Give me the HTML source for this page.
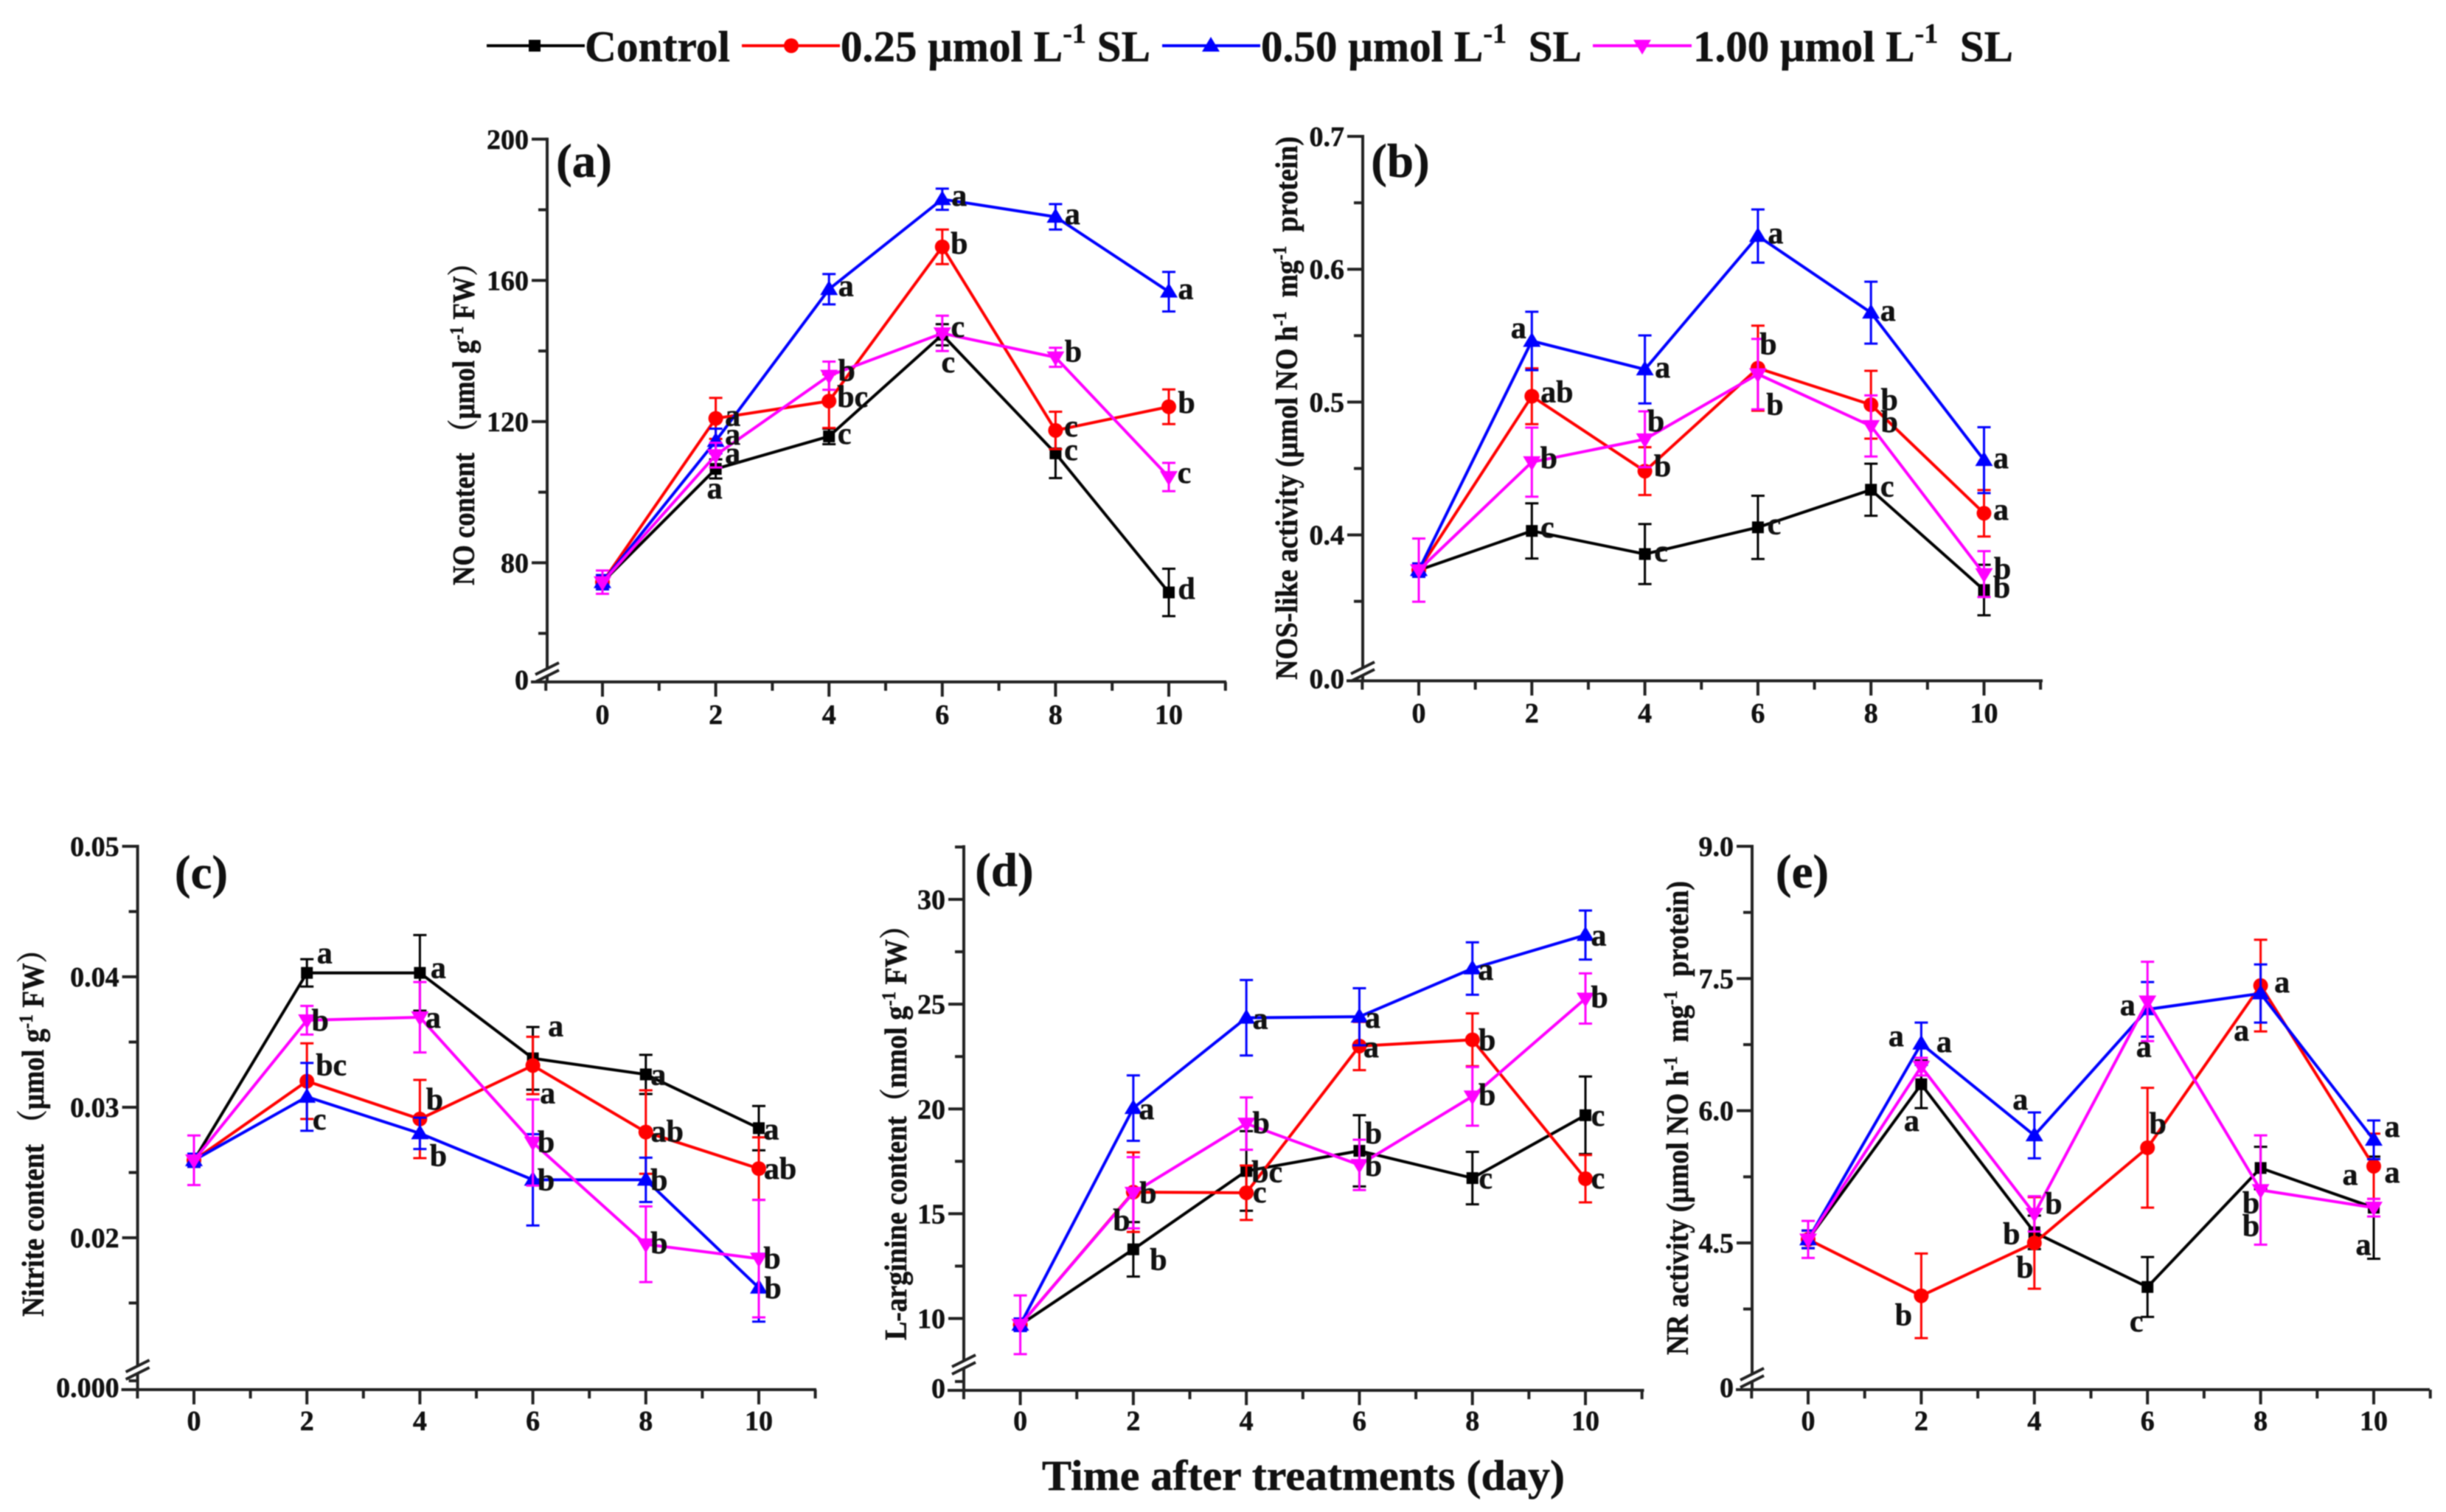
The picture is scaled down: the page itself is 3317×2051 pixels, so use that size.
<!DOCTYPE html>
<html lang="en">
<head>
<meta charset="utf-8">
<title>Nitric oxide metabolism after SL treatments</title>
<style>
html,body{margin:0;padding:0;background:#fff;width:3317px;height:2051px;overflow:hidden}
svg{display:block;filter:blur(0.7px)}
text{font-family:"Liberation Serif","Noto Serif CJK SC",serif;font-weight:bold;fill:#111;stroke:#111;stroke-width:0.5px}
</style>
</head>
<body>
<svg id="chart" xmlns="http://www.w3.org/2000/svg" width="3317" height="2051" viewBox="0 0 3317 2051">
  <rect x="0" y="0" width="3317" height="2051" fill="#fff"/>
  <g id="legend">
    <g>
      <line x1="660" x2="793" y1="62" y2="62" stroke="#000" stroke-width="4"/>
      <rect x="717" y="54" width="16" height="16" fill="#000"/>
      <text x="793" y="83" font-size="59" textLength="197" lengthAdjust="spacingAndGlyphs">Control</text>
    </g>
    <g>
      <line x1="1006" x2="1139" y1="62" y2="62" stroke="#f00" stroke-width="4"/>
      <circle cx="1073" cy="62" r="10" fill="#f00"/>
      <text x="1140" y="83" font-size="59" textLength="420" lengthAdjust="spacingAndGlyphs">0.25 μmol L<tspan dy="-25" font-size="38">-1</tspan><tspan dy="25"> SL</tspan></text>
    </g>
    <g>
      <line x1="1576" x2="1709" y1="62" y2="62" stroke="#00f" stroke-width="4"/>
      <polygon points="1642,50 1654,70 1630,70" fill="#00f"/>
      <text x="1710" y="83" font-size="59" textLength="435" lengthAdjust="spacingAndGlyphs">0.50 μmol L<tspan dy="-25" font-size="38">-1</tspan><tspan dy="25" xml:space="preserve">  SL</tspan></text>
    </g>
    <g>
      <line x1="2160" x2="2294" y1="62" y2="62" stroke="#f0f" stroke-width="4"/>
      <polygon points="2227,74 2239,54 2215,54" fill="#f0f"/>
      <text x="2296" y="83" font-size="59" textLength="434" lengthAdjust="spacingAndGlyphs">1.00 μmol L<tspan dy="-25" font-size="38">-1</tspan><tspan dy="25" xml:space="preserve">  SL</tspan></text>
    </g>
  </g>
  <text x="792" y="240" font-size="65" text-anchor="middle">(a)</text>
  <text x="1899" y="240" font-size="65" text-anchor="middle">(b)</text>
  <text x="273" y="1205" font-size="65" text-anchor="middle">(c)</text>
  <text x="1362" y="1202" font-size="65" text-anchor="middle">(d)</text>
  <text x="2444" y="1204" font-size="65" text-anchor="middle">(e)</text>

  <text transform="translate(643 794) rotate(-90)" font-size="42" textLength="456" lengthAdjust="spacingAndGlyphs">NO content （μmol g<tspan dy="-15" font-size="26">-1</tspan><tspan dy="15"> FW）</tspan></text>
  <text transform="translate(1759 922) rotate(-90)" font-size="42" textLength="737" lengthAdjust="spacingAndGlyphs">NOS-like activity (μmol NO h<tspan dy="-15" font-size="26">-1</tspan><tspan dy="15" xml:space="preserve">  mg</tspan><tspan dy="-15" font-size="26">-1</tspan><tspan dy="15" xml:space="preserve">  protein)</tspan></text>
  <text transform="translate(59 1786) rotate(-90)" font-size="42" textLength="517" lengthAdjust="spacingAndGlyphs">Nitrite content （μmol  g<tspan dy="-15" font-size="26">-1</tspan><tspan dy="15"> FW）</tspan></text>
  <text transform="translate(1229 1818) rotate(-90)" font-size="42" textLength="582" lengthAdjust="spacingAndGlyphs">L-arginine content（nmol  g<tspan dy="-15" font-size="26">-1</tspan><tspan dy="15"> FW）</tspan></text>
  <text transform="translate(2289 1838) rotate(-90)" font-size="42" textLength="643" lengthAdjust="spacingAndGlyphs">NR activity (μmol NO h<tspan dy="-15" font-size="26">-1</tspan><tspan dy="15" xml:space="preserve">  mg</tspan><tspan dy="-15" font-size="26">-1</tspan><tspan dy="15" xml:space="preserve">  protein)</tspan></text>
  <text x="1413" y="2021" font-size="58" textLength="709" lengthAdjust="spacingAndGlyphs">Time after treatments (day)</text>
  <g id="plots"></g>
</svg>
<script>
const days = [0, 2, 4, 6, 8, 10];
const xTickLabels = ['0', '2', '4', '6', '8', '10'];

// Panel (a) NO content
const aControl = [74.5, 106.6, 115.8, 144.6, 111, 71.6];
const aControlErr = [2, 2.7, 2.2, 3, 7, 6.7];
const aControlLetters = ['', 'a', 'c', 'c', 'c', 'd'];
const aLow = [74.5, 120.9, 125.8, 169.5, 117.5, 124.2];
const aLowErr = [2, 5.8, 7.6, 4.9, 5.3, 4.9];
const aLowLetters = ['', 'a', 'bc', 'b', 'c', 'b'];
const aMid = [74.5, 114.5, 157.5, 183, 178, 156.8];
const aMidErr = [2, 3.5, 4.3, 3, 3.6, 5.6];
const aMidLetters = ['', 'a', 'a', 'a', 'a', 'a'];
const aHigh = [74.5, 110.5, 133, 145, 138.2, 104.3];
const aHighErr = [3.3, 3.5, 4, 5, 2.7, 4];
const aHighLetters = ['', 'a', 'b', 'c', 'b', 'c'];
const aMajorTicks = [80, 120, 160, 200];
const aMinorTicks = [60, 100, 140, 180];
const aTickLabels = ['80', '120', '160', '200'];

// Panel (b) NOS-like activity
const bControl = [0.3735, 0.403, 0.3856, 0.4057, 0.434, 0.3585];
const bControlErr = [0.005, 0.0208, 0.0226, 0.0238, 0.0196, 0.019];
const bControlLetters = ['', 'c', 'c', 'c', 'c', 'b'];
const bLow = [0.3735, 0.5044, 0.448, 0.5255, 0.498, 0.4163];
const bLowErr = [0.005, 0.021, 0.018, 0.032, 0.0255, 0.0175];
const bLowLetters = ['', 'ab', 'b', 'b', 'b', 'a'];
const bMid = [0.3735, 0.546, 0.5246, 0.625, 0.5673, 0.4563];
const bMidErr = [0.005, 0.022, 0.0256, 0.02, 0.0233, 0.0248];
const bMidLetters = ['', 'a', 'a', 'a', 'a', 'a'];
const bHigh = [0.3735, 0.4548, 0.472, 0.521, 0.482, 0.3705];
const bHighErr = [0.0238, 0.026, 0.021, 0.0265, 0.023, 0.0173];
const bHighLetters = ['', 'b', 'b', 'b', 'b', 'b'];
const bMajorTicks = [0.4, 0.5, 0.6, 0.7];
const bMinorTicks = [0.35, 0.45, 0.55, 0.65];
const bTickLabels = ['0.4', '0.5', '0.6', '0.7'];

// Panel (c) Nitrite content
const cControl = [0.02594, 0.0403, 0.0403, 0.03375, 0.03252, 0.0284];
const cControlErr = [0.0005, 0.00105, 0.0029, 0.0024, 0.0015, 0.0017];
const cControlLetters = ['', 'a', 'a', 'a', 'a', 'a'];
const cLow = [0.02594, 0.032, 0.0291, 0.0332, 0.0281, 0.0253];
const cLowErr = [0.0005, 0.0029, 0.003, 0.0022, 0.0032, 0.0024];
const cLowLetters = ['', 'bc', 'b', 'a', 'ab', 'ab'];
const cMid = [0.02594, 0.0308, 0.028, 0.02444, 0.02444, 0.01617];
const cMidErr = [0.0005, 0.0026, 0.0012, 0.0035, 0.0017, 0.0026];
const cMidLetters = ['', 'c', 'b', 'b', 'b', 'b'];
const cHigh = [0.02594, 0.03667, 0.0369, 0.0273, 0.0195, 0.0184];
const cHighErr = [0.0019, 0.0011, 0.0027, 0.0033, 0.0029, 0.0045];
const cHighLetters = ['', 'b', 'a', 'b', 'b', 'b'];
const cMajorTicks = [0.02, 0.03, 0.04, 0.05];
const cMinorTicks = [0.015, 0.025, 0.035, 0.045];
const cTickLabels = ['0.02', '0.03', '0.04', '0.05'];

// Panel (d) L-arginine content
const dControl = [9.7, 13.3, 17.04, 18, 16.7, 19.7];
const dControlErr = [0.3, 1.3, 1.9, 1.7, 1.25, 1.85];
const dControlLetters = ['', 'b', 'bc', 'b', 'c', 'c'];
const dLow = [9.7, 16.03, 16, 23, 23.3, 16.67];
const dLowErr = [0.3, 1.9, 1.3, 1.15, 1.26, 1.13];
const dLowLetters = ['', 'b', 'c', 'a', 'b', 'c'];
const dMid = [9.7, 20.04, 24.35, 24.4, 26.7, 28.3];
const dMidErr = [0.3, 1.56, 1.8, 1.36, 1.25, 1.17];
const dMidLetters = ['', 'a', 'a', 'a', 'a', 'a'];
const dHigh = [9.7, 16, 19.3, 17.33, 20.6, 25.27];
const dHighErr = [1.4, 1.7, 1.25, 1.2, 1.4, 1.2];
const dHighLetters = ['', 'b', 'b', 'b', 'b', 'b'];
const dMajorTicks = [10, 15, 20, 25, 30];
const dMinorTicks = [12.5, 17.5, 22.5, 27.5, 32.5];
const dTickLabels = ['10', '15', '20', '25', '30'];

// Panel (e) NR activity
const eControl = [4.54, 6.3, 4.62, 4, 5.35, 4.9];
const eControlErr = [0.1, 0.27, 0.19, 0.34, 0.24, 0.58];
const eControlLetters = ['', 'a', 'b', 'c', 'b', 'a'];
const eLow = [4.54, 3.9, 4.5, 5.58, 7.42, 5.37];
const eLowErr = [0.1, 0.48, 0.52, 0.68, 0.52, 0.37];
const eLowLetters = ['', 'b', 'b', 'b', 'a', 'a'];
const eMid = [4.54, 6.76, 5.72, 7.15, 7.33, 5.67];
const eMidErr = [0.1, 0.24, 0.26, 0.31, 0.33, 0.22];
const eMidLetters = ['', 'a', 'a', 'a', 'a', 'a'];
const eHigh = [4.54, 6.5, 4.83, 7.24, 5.1, 4.9];
const eHighErr = [0.21, 0.1, 0.2, 0.45, 0.62, 0.1];
const eHighLetters = ['', 'a', 'b', 'a', 'b', 'a'];
const eMajorTicks = [4.5, 6, 7.5, 9];
const eMinorTicks = [3.75, 5.25, 6.75, 8.25];
const eTickLabels = ['4.5', '6.0', '7.5', '9.0'];

const NS = 'http://www.w3.org/2000/svg';
const COLORS = ['#000', '#f00', '#00f', '#f0f'];
const SERIES_NAMES = ['control', '025', '050', '100'];
const plots = document.getElementById('plots');

function mk(tag, attrs, parent) {
  const n = document.createElementNS(NS, tag);
  for (const k in attrs) n.setAttribute(k, attrs[k]);
  parent.appendChild(n);
  return n;
}

const layouts = {
  a: {left: 742, right: 1661, x0: 817, x10: 1585, base: 925, top: 188.8, v0: 80, p0: 763.4, v1: 200, p1: 188.8, brk: 912, xLabelY: 982, zero: '0', extraTick: false,
    offs: [
      [[0,0],[-1.5,29],[21,-1],[8,40],[21,-2],[24,-2]],
      [[0,0],[23,-1],[32,-3],[23,-2],[21,-3],[24,-3]],
      [[0,0],[23,-6],[23,-2],[23,-2],[23,-1],[23,-1]],
      [[0,0],[23,0],[24,-4],[21,-6],[24,-5],[21,-3]]
    ]},
  b: {left: 1848, right: 2768, x0: 1924, x10: 2690.5, base: 923.5, top: 185, v0: 0.4, p0: 725.6, v1: 0.7, p1: 185, brk: 911, xLabelY: 980, zero: '0.0', extraTick: false,
    offs: [
      [[0,0],[21,-2],[22,-1],[22,-2],[22,-2],[24,-1]],
      [[0,0],[34,-3],[24,-4],[14,-30],[25,-4],[23,-2]],
      [[0,0],[-18,-15],[24,0],[24,-1],[23,0],[23,0]],
      [[0,0],[23,-3],[15,-22],[23,44],[25,-3],[25,-5]]
    ]},
  c: {left: 186.6, right: 1105, x0: 263, x10: 1029, base: 1885, top: 1148, v0: 0.02, p0: 1679, v1: 0.05, p1: 1148, brk: 1858, xLabelY: 1940, zero: '0.000', extraTick: true,
    offs: [
      [[0,0],[24,-24],[25,-4],[31,-41],[17,3],[17,4]],
      [[0,0],[33,-19],[20,-24],[20,40],[29,2],[29,3]],
      [[0,0],[17,33],[25,33],[18,3],[18,3],[19,3]],
      [[0,0],[18,3],[18,3],[18,2],[18,1],[18,2]]
    ]},
  d: {left: 1307, right: 2227.5, x0: 1383.6, x10: 2150, base: 1886, top: 1148.5, v0: 10, p0: 1788.5, v1: 30, p1: 1220, brk: 1851, xLabelY: 1940, zero: '0', extraTick: true,
    offs: [
      [[0,0],[34,17],[28,4],[19,-21],[18,3],[17,3]],
      [[0,0],[-16,41],[18,2],[16,4],[20,3],[17,2]],
      [[0,0],[18,4],[19,4],[18,4],[18,4],[18,3]],
      [[0,0],[20,3],[20,2],[19,4],[20,1],[19,1]]
    ]},
  e: {left: 2376, right: 3293, x0: 2452, x10: 3219, base: 1885, top: 1148, v0: 4.5, p0: 1686, v1: 9, p1: 1148, brk: 1869, xLabelY: 1940, zero: '0', extraTick: false,
    offs: [
      [[0,0],[-13,52],[-31,5],[-15,49],[-13,50],[-14,53]],
      [[0,0],[-24,29],[-13,36],[14,-30],[29,-2],[25,11]],
      [[0,0],[31,0],[-19,-46],[-27,-3],[-26,53],[25,-15]],
      [[0,0],[-34,-39],[26,-11],[-5,64],[-13,51],[-32,-42]]
    ]}
};

function drawMarker(g, idx, cx, cy) {
  let m;
  if (idx === 0) {
    m = mk('rect', {x: cx - 8, y: cy - 8, width: 16, height: 16, fill: COLORS[idx]}, g);
  } else if (idx === 1) {
    m = mk('circle', {cx: cx, cy: cy, r: 10, fill: COLORS[idx]}, g);
  } else if (idx === 2) {
    m = mk('polygon', {points: (cx) + ',' + (cy - 12) + ' ' + (cx + 12) + ',' + (cy + 8) + ' ' + (cx - 12) + ',' + (cy + 8), fill: COLORS[idx]}, g);
  } else {
    m = mk('polygon', {points: (cx) + ',' + (cy + 12) + ' ' + (cx + 12) + ',' + (cy - 8) + ' ' + (cx - 12) + ',' + (cy - 8), fill: COLORS[idx]}, g);
  }
  
  
}

function drawPanel(id, majorTicks, minorTicks, tickLabels, series) {
  const L = layouts[id];
  const sx = function (d) { return L.x0 + (L.x10 - L.x0) * d / 10; };
  const sy = function (v) { return L.p0 + (L.p1 - L.p0) * (v - L.v0) / (L.v1 - L.v0); };
  const panel = mk('g', {}, plots);
  
  

  const axes = mk('g', {stroke: '#222', 'stroke-width': 4, fill: 'none'}, panel);
  
  

  const xAxis = mk('line', {x1: L.left - 22, x2: L.right + 2, y1: L.base, y2: L.base}, axes);
  
  
  const yUpper = mk('line', {x1: L.left, x2: L.left, y1: L.top - 2, y2: L.brk - 5}, axes);
  
  
  const yLower = mk('line', {x1: L.left, x2: L.left, y1: L.brk + 5, y2: L.base}, axes);
  
  
  [-5, 5].forEach(function (o) {
    const s = mk('line', {x1: L.left - 16, x2: L.left + 16, y1: L.brk + o + 8, y2: L.brk + o - 8}, axes);
    
    
  });

  // x ticks
  for (let t = -1; t <= 11; t++) {
    const major = t >= 0 && t <= 10 && t % 2 === 0;
    const tx = sx(t);
    const tk = mk('line', {x1: tx, x2: tx, y1: L.base, y2: L.base + (major ? 20 : 12)}, axes);
    
    
  }
  days.forEach(function (d, i) {
    const lab = mk('text', {x: sx(d), y: L.xLabelY, 'font-size': 38, 'text-anchor': 'middle'}, panel);
    lab.textContent = xTickLabels[i];
    
    
  });

  // y ticks
  majorTicks.forEach(function (v, i) {
    const tk = mk('line', {x1: L.left - 21, x2: L.left, y1: sy(v), y2: sy(v)}, axes);
    
    
    const lab = mk('text', {x: L.left - 25, y: sy(v) + 13, 'font-size': 38, 'text-anchor': 'end'}, panel);
    lab.textContent = tickLabels[i];
    
    
  });
  minorTicks.forEach(function (v) {
    const tk = mk('line', {x1: L.left - 12, x2: L.left, y1: sy(v), y2: sy(v)}, axes);
    
    
  });
  if (L.extraTick) {
    const tk = mk('line', {x1: L.left - 12, x2: L.left, y1: L.base - 12, y2: L.base - 12}, axes);
    
    
  }
  const zeroLab = mk('text', {x: L.left - 25, y: L.base + 10, 'font-size': 38, 'text-anchor': 'end'}, panel);
  zeroLab.textContent = L.zero;
  
  

  // series
  series.forEach(function (s, idx) {
    const g = mk('g', {}, panel);
    
    
    const color = COLORS[idx];
    const pts = s.values.map(function (v, i) { return sx(days[i]) + ',' + sy(v); }).join(' ');
    const line = mk('polyline', {points: pts, fill: 'none', stroke: color, 'stroke-width': 4, 'stroke-linejoin': 'miter'}, g);
    
    
    s.values.forEach(function (v, i) {
      const cx = sx(days[i]);
      const hi = sy(v + s.errs[i]);
      const lo = sy(v - s.errs[i]);
      const e = mk('path', {d: 'M' + (cx - 9) + ' ' + hi + 'H' + (cx + 9) + 'M' + cx + ' ' + hi + 'V' + lo + 'M' + (cx - 9) + ' ' + lo + 'H' + (cx + 9), fill: 'none', stroke: color, 'stroke-width': 3}, g);
      
      
    });
    s.values.forEach(function (v, i) {
      drawMarker(g, idx, sx(days[i]), sy(v));
    });
  });

  // significance letters
  series.forEach(function (s, idx) {
    s.letters.forEach(function (t, i) {
      if (!t) return;
      const o = L.offs[idx][i];
      const lt = mk('text', {x: sx(days[i]) + o[0], y: sy(s.values[i]) + o[1] + 11, 'font-size': 42, 'text-anchor': 'middle'}, panel);
      lt.textContent = t;
      
      
    });
  });
}

drawPanel('a', aMajorTicks, aMinorTicks, aTickLabels, [
  {values: aControl, errs: aControlErr, letters: aControlLetters},
  {values: aLow, errs: aLowErr, letters: aLowLetters},
  {values: aMid, errs: aMidErr, letters: aMidLetters},
  {values: aHigh, errs: aHighErr, letters: aHighLetters}
]);
drawPanel('b', bMajorTicks, bMinorTicks, bTickLabels, [
  {values: bControl, errs: bControlErr, letters: bControlLetters},
  {values: bLow, errs: bLowErr, letters: bLowLetters},
  {values: bMid, errs: bMidErr, letters: bMidLetters},
  {values: bHigh, errs: bHighErr, letters: bHighLetters}
]);
drawPanel('c', cMajorTicks, cMinorTicks, cTickLabels, [
  {values: cControl, errs: cControlErr, letters: cControlLetters},
  {values: cLow, errs: cLowErr, letters: cLowLetters},
  {values: cMid, errs: cMidErr, letters: cMidLetters},
  {values: cHigh, errs: cHighErr, letters: cHighLetters}
]);
drawPanel('d', dMajorTicks, dMinorTicks, dTickLabels, [
  {values: dControl, errs: dControlErr, letters: dControlLetters},
  {values: dLow, errs: dLowErr, letters: dLowLetters},
  {values: dMid, errs: dMidErr, letters: dMidLetters},
  {values: dHigh, errs: dHighErr, letters: dHighLetters}
]);
drawPanel('e', eMajorTicks, eMinorTicks, eTickLabels, [
  {values: eControl, errs: eControlErr, letters: eControlLetters},
  {values: eLow, errs: eLowErr, letters: eLowLetters},
  {values: eMid, errs: eMidErr, letters: eMidLetters},
  {values: eHigh, errs: eHighErr, letters: eHighLetters}
]);
</script>
</body>
</html>
